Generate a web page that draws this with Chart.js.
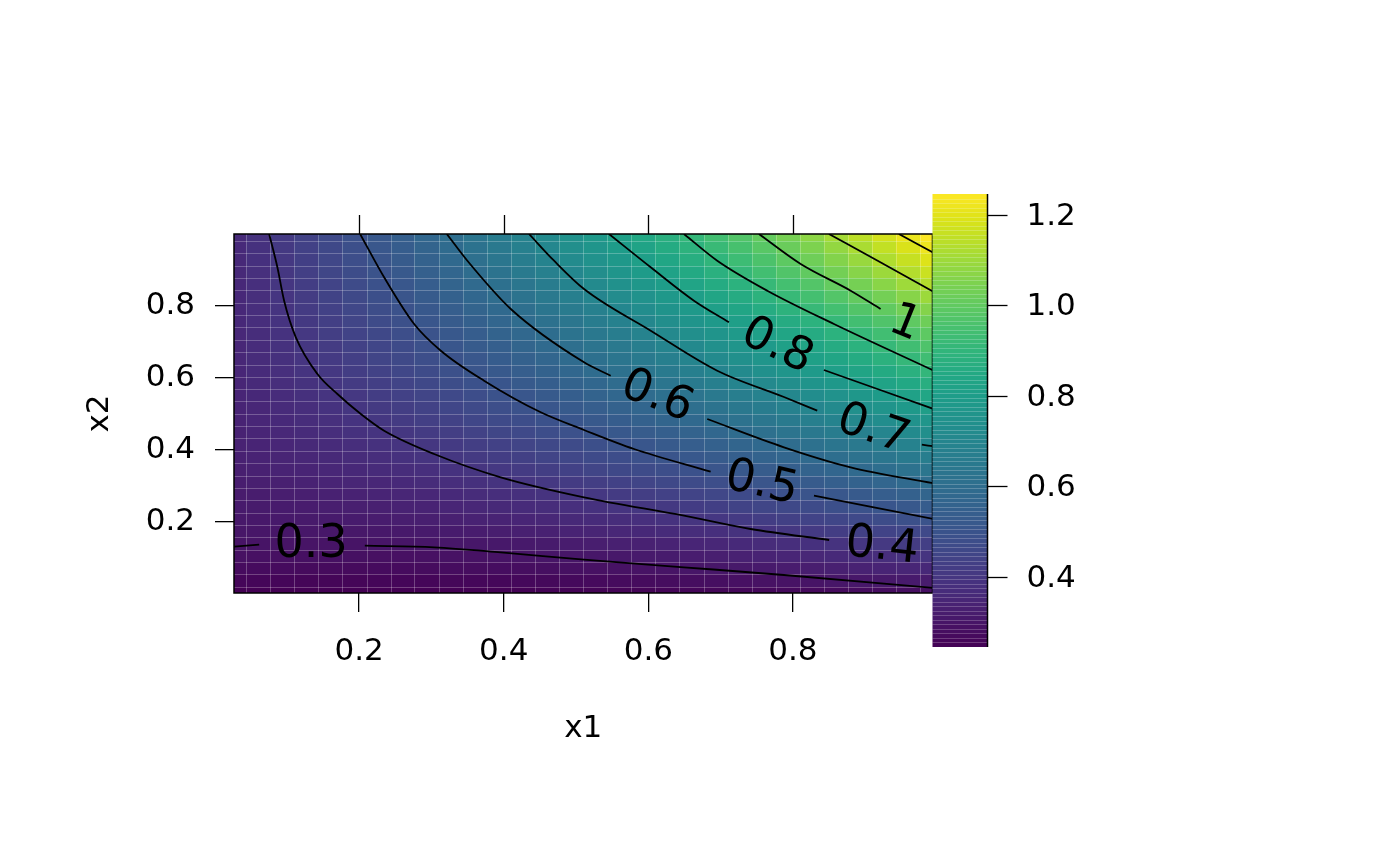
<!DOCTYPE html>
<html>
<head>
<meta charset="utf-8">
<script src="https://cdn.jsdelivr.net/npm/chart.js@4.4.1/dist/chart.umd.min.js"></script>
<style>
html,body{margin:0;padding:0;background:#ffffff;}
canvas{display:block;}
</style>
</head>
<body>
<canvas id="c" width="1400" height="866"></canvas>
<script>
// ---------------- data ----------------
const x1Grid = [0.027,0.060,0.094,0.127,0.160,0.194,0.227,0.260,0.293,0.327,0.360,0.393,0.427,0.460,0.493,0.527,0.560,0.593,0.626,0.660,0.693,0.726,0.760,0.793,0.826,0.860,0.893,0.926,0.959,0.993];
const x2Grid = [0.003,0.037,0.072,0.106,0.140,0.175,0.209,0.243,0.277,0.312,0.346,0.380,0.415,0.449,0.483,0.518,0.552,0.586,0.620,0.655,0.689,0.723,0.758,0.792,0.826,0.861,0.895,0.929,0.963,0.998];
// zRows[j][i] : value at (x1Grid[i], x2Grid[j])
const zRows = [
[0.246,0.245,0.245,0.245,0.244,0.245,0.245,0.245,0.245,0.246,0.247,0.248,0.248,0.250,0.251,0.252,0.254,0.255,0.257,0.259,0.261,0.263,0.265,0.268,0.271,0.273,0.276,0.279,0.282,0.285],
[0.260,0.259,0.259,0.258,0.258,0.258,0.259,0.259,0.260,0.261,0.262,0.263,0.265,0.266,0.268,0.271,0.273,0.275,0.278,0.281,0.284,0.288,0.291,0.295,0.299,0.303,0.307,0.312,0.316,0.321],
[0.274,0.273,0.273,0.272,0.272,0.272,0.273,0.274,0.275,0.276,0.277,0.279,0.281,0.284,0.286,0.289,0.292,0.296,0.299,0.303,0.307,0.312,0.317,0.322,0.327,0.333,0.338,0.345,0.351,0.358],
[0.289,0.288,0.287,0.286,0.286,0.286,0.287,0.288,0.289,0.291,0.293,0.295,0.298,0.300,0.304,0.307,0.311,0.316,0.320,0.325,0.331,0.336,0.342,0.349,0.355,0.362,0.370,0.377,0.385,0.394],
[0.299,0.298,0.298,0.298,0.298,0.299,0.300,0.301,0.303,0.306,0.308,0.311,0.314,0.318,0.322,0.327,0.332,0.337,0.342,0.349,0.355,0.362,0.369,0.376,0.384,0.392,0.401,0.410,0.420,0.429],
[0.305,0.305,0.305,0.306,0.307,0.309,0.311,0.314,0.316,0.320,0.323,0.327,0.332,0.336,0.342,0.347,0.353,0.359,0.366,0.373,0.380,0.388,0.396,0.405,0.414,0.423,0.433,0.443,0.453,0.464],
[0.310,0.311,0.313,0.315,0.317,0.320,0.323,0.326,0.330,0.334,0.339,0.343,0.349,0.355,0.361,0.367,0.374,0.381,0.389,0.397,0.406,0.414,0.424,0.433,0.443,0.453,0.464,0.475,0.487,0.499],
[0.316,0.318,0.320,0.323,0.326,0.330,0.334,0.338,0.343,0.348,0.354,0.360,0.366,0.373,0.380,0.387,0.395,0.404,0.412,0.421,0.431,0.441,0.451,0.461,0.472,0.484,0.496,0.508,0.520,0.533],
[0.321,0.324,0.327,0.331,0.335,0.340,0.345,0.350,0.356,0.362,0.369,0.376,0.383,0.391,0.399,0.407,0.416,0.426,0.435,0.445,0.456,0.467,0.478,0.490,0.502,0.514,0.527,0.540,0.554,0.568],
[0.325,0.330,0.334,0.339,0.344,0.350,0.356,0.362,0.369,0.376,0.383,0.391,0.400,0.408,0.418,0.427,0.437,0.447,0.458,0.469,0.481,0.493,0.505,0.518,0.531,0.544,0.558,0.572,0.587,0.602],
[0.330,0.335,0.341,0.346,0.353,0.359,0.366,0.374,0.381,0.390,0.398,0.407,0.416,0.426,0.436,0.447,0.458,0.469,0.481,0.493,0.506,0.518,0.532,0.545,0.560,0.574,0.589,0.604,0.620,0.636],
[0.335,0.341,0.347,0.354,0.361,0.369,0.377,0.385,0.394,0.403,0.413,0.423,0.433,0.444,0.455,0.467,0.478,0.491,0.504,0.517,0.530,0.544,0.559,0.573,0.589,0.604,0.620,0.637,0.653,0.670],
[0.338,0.345,0.352,0.360,0.368,0.377,0.386,0.395,0.405,0.415,0.426,0.437,0.448,0.460,0.472,0.485,0.498,0.512,0.525,0.540,0.554,0.569,0.585,0.600,0.617,0.633,0.650,0.668,0.686,0.704],
[0.340,0.349,0.357,0.366,0.375,0.385,0.395,0.405,0.416,0.427,0.439,0.451,0.464,0.477,0.490,0.504,0.518,0.532,0.547,0.562,0.578,0.594,0.610,0.627,0.645,0.662,0.680,0.699,0.718,0.737],
[0.343,0.352,0.362,0.372,0.382,0.393,0.404,0.416,0.428,0.440,0.453,0.466,0.479,0.493,0.508,0.522,0.537,0.553,0.569,0.585,0.602,0.619,0.636,0.654,0.673,0.691,0.711,0.730,0.750,0.770],
[0.346,0.356,0.366,0.377,0.389,0.401,0.413,0.425,0.438,0.452,0.466,0.480,0.494,0.509,0.525,0.541,0.557,0.573,0.590,0.608,0.626,0.644,0.662,0.681,0.701,0.720,0.741,0.761,0.782,0.803],
[0.348,0.359,0.371,0.383,0.395,0.408,0.422,0.435,0.449,0.464,0.479,0.494,0.510,0.526,0.542,0.559,0.576,0.594,0.612,0.630,0.649,0.669,0.688,0.708,0.729,0.750,0.771,0.793,0.815,0.837],
[0.350,0.363,0.375,0.388,0.402,0.416,0.430,0.445,0.460,0.476,0.492,0.508,0.525,0.542,0.559,0.577,0.596,0.614,0.634,0.653,0.673,0.694,0.714,0.735,0.757,0.779,0.801,0.824,0.847,0.871],
[0.352,0.366,0.380,0.394,0.409,0.424,0.439,0.455,0.471,0.488,0.505,0.522,0.540,0.558,0.577,0.596,0.615,0.635,0.655,0.676,0.697,0.718,0.740,0.762,0.785,0.808,0.831,0.855,0.879,0.904],
[0.354,0.369,0.383,0.399,0.414,0.430,0.447,0.463,0.481,0.498,0.516,0.535,0.554,0.573,0.592,0.612,0.633,0.654,0.675,0.696,0.719,0.741,0.764,0.787,0.811,0.835,0.859,0.884,0.909,0.935],
[0.356,0.371,0.387,0.403,0.420,0.437,0.454,0.472,0.490,0.509,0.528,0.547,0.567,0.587,0.608,0.629,0.650,0.672,0.694,0.716,0.740,0.763,0.787,0.811,0.835,0.860,0.886,0.912,0.938,0.964],
[0.357,0.374,0.390,0.407,0.425,0.443,0.461,0.480,0.499,0.519,0.539,0.559,0.580,0.601,0.623,0.645,0.667,0.690,0.713,0.736,0.761,0.785,0.810,0.835,0.860,0.886,0.913,0.939,0.967,0.994],
[0.358,0.376,0.393,0.412,0.430,0.449,0.469,0.488,0.509,0.529,0.550,0.572,0.594,0.616,0.638,0.661,0.685,0.708,0.733,0.757,0.782,0.808,0.834,0.860,0.886,0.913,0.941,0.968,0.997,1.025],
[0.359,0.377,0.396,0.416,0.435,0.456,0.476,0.497,0.519,0.541,0.563,0.585,0.609,0.632,0.656,0.680,0.705,0.730,0.755,0.781,0.807,0.834,0.861,0.888,0.916,0.944,0.973,1.002,1.031,1.061],
[0.359,0.379,0.399,0.420,0.441,0.462,0.484,0.506,0.529,0.552,0.575,0.599,0.624,0.648,0.673,0.699,0.725,0.751,0.777,0.804,0.832,0.860,0.888,0.917,0.946,0.975,1.005,1.035,1.066,1.097],
[0.359,0.380,0.402,0.424,0.446,0.469,0.492,0.515,0.539,0.563,0.588,0.613,0.639,0.664,0.691,0.717,0.744,0.772,0.800,0.828,0.857,0.886,0.915,0.945,0.975,1.006,1.037,1.069,1.101,1.133],
[0.360,0.382,0.405,0.428,0.451,0.475,0.499,0.523,0.548,0.574,0.599,0.626,0.652,0.679,0.706,0.734,0.762,0.791,0.820,0.849,0.879,0.909,0.940,0.971,1.002,1.034,1.066,1.098,1.131,1.165],
[0.361,0.384,0.408,0.431,0.456,0.480,0.506,0.531,0.557,0.583,0.610,0.637,0.665,0.693,0.721,0.750,0.779,0.808,0.838,0.869,0.899,0.930,0.962,0.994,1.026,1.059,1.092,1.126,1.159,1.194],
[0.362,0.386,0.411,0.435,0.461,0.486,0.513,0.539,0.566,0.593,0.621,0.649,0.678,0.706,0.736,0.765,0.795,0.826,0.857,0.888,0.920,0.952,0.984,1.017,1.051,1.084,1.118,1.153,1.188,1.223],
[0.363,0.388,0.414,0.439,0.466,0.492,0.520,0.547,0.575,0.603,0.632,0.661,0.690,0.720,0.750,0.781,0.812,0.844,0.875,0.908,0.940,0.973,1.007,1.041,1.075,1.110,1.145,1.180,1.216,1.252]
];
const zRange = [0.245, 1.246];

// contour lines (x1, x2), split where labels interrupt them
const contour03a = [[0.027,0.1314],[0.0618,0.137]];
const contour03b = [[0.2079,0.1342],[0.3037,0.1297],[0.3959,0.1158],[0.5111,0.0953],[0.6493,0.0742],[0.7876,0.0528],[0.9949,0.0167]];
const contour04  = [[0.0756,1.0],[0.0870,0.9075],[0.0963,0.8147],[0.1125,0.7131],[0.1424,0.6111],[0.1700,0.5556],[0.2024,0.5],[0.2346,0.4536],[0.3037,0.3889],[0.3959,0.3242],[0.5111,0.2686],[0.6493,0.2175],[0.7415,0.1806],[0.8501,0.15]];
const contour05a = [[0.2014,1.0],[0.2346,0.8797],[0.2761,0.75],[0.3130,0.6758],[0.3728,0.5925],[0.4512,0.5047],[0.5111,0.4556],[0.5802,0.4028],[0.6862,0.3397]];
const contour05b = [[0.8291,0.2731],[0.9949,0.2083]];
const contour06a = [[0.3213,1.0],[0.3497,0.9258],[0.4098,0.7917],[0.5111,0.6436],[0.5480,0.6064]];
const contour06b = [[0.6815,0.4861],[0.7876,0.4075],[0.8798,0.3519],[0.9949,0.3075]];
const contour07a = [[0.4350,1.0],[0.4696,0.9258],[0.5111,0.8472],[0.6033,0.7314],[0.6953,0.6203],[0.7876,0.5472],[0.8336,0.5092]];
const contour07b = [[0.9783,0.4147],[0.9949,0.4103]];
const contour08a = [[0.5456,1.0],[0.6033,0.9075],[0.6631,0.8147],[0.7115,0.7547]];
const contour08b = [[0.8428,0.6222],[0.9949,0.5139]];
const contour09  = [[0.6493,1.0],[0.6953,0.9258],[0.7645,0.8425],[0.8567,0.75],[0.9949,0.6203]];
const contour10  = [[0.7530,1.0],[0.8107,0.9167],[0.8798,0.8425],[0.9212,0.7917]];
const contour11  = [[0.8498,1.0],[0.9203,0.9222],[0.9949,0.8389]];
const contour12  = [[0.9465,1.0],[0.9949,0.9472]];

const contourLabelText = ['0.3','0.4','0.5','0.6','0.7','0.8','1'];
const contourLabelAt   = [[0.1336,0.1361],[0.9230,0.1306],[0.7565,0.3056],[0.6120,0.5472],[0.9106,0.4556],[0.7779,0.6875],[0.9548,0.75]];
const contourLabelDeg  = [0,6,13,22,19,26,22];

const xTicks = [0.2,0.4,0.6,0.8];
const xTickLabels = ['0.2','0.4','0.6','0.8'];
const yTicks = [0.2,0.4,0.6,0.8];
const yTickLabels = ['0.2','0.4','0.6','0.8'];
const colorbarTicks = [0.4,0.6,0.8,1.0,1.2];
const colorbarTickLabels = ['0.4','0.6','0.8','1.0','1.2'];
const xTitle = 'x1';
const yTitle = 'x2';

// ---------------- styling ----------------
const FONT = "'DejaVu Sans', 'Noto Sans', sans-serif";
const TICK_PX = 31;
const VIRIDIS = ['#440154','#471365','#482475','#463480','#414487','#3b528b','#355f8d','#2f6c8e','#2a788e','#25848e','#21918c','#1e9c89','#22a884','#2fb47c','#44bf70','#5ec962','#7ad151','#9bd93c','#bddf26','#dfe318','#fde725'];
const VRGB = VIRIDIS.map(h => [parseInt(h.slice(1,3),16),parseInt(h.slice(3,5),16),parseInt(h.slice(5,7),16)]);
function viridis(t){
  t = Math.max(0, Math.min(1, t));
  const p = t*(VRGB.length-1), k = Math.min(VRGB.length-2, Math.floor(p)), f = p-k;
  const a = VRGB[k], b = VRGB[k+1];
  return 'rgb(' + [0,1,2].map(c => Math.round(a[c]+(b[c]-a[c])*f)).join(',') + ')';
}
function edges(g){
  const e = [g[0]-(g[1]-g[0])/2];
  for (let i=0;i<g.length-1;i++) e.push((g[i]+g[i+1])/2);
  e.push(g[g.length-1]+(g[g.length-1]-g[g.length-2])/2);
  return e;
}

const heatmapPlugin = {
  id:'heatmap',
  beforeDatasetsDraw(chart){
    const {ctx, chartArea:a, scales:{x,y}} = chart;
    const xe = edges(x1Grid), ye = edges(x2Grid);
    ctx.save();
    ctx.beginPath(); ctx.rect(a.left,a.top,a.right-a.left,a.bottom-a.top); ctx.clip();
    for (let j=0;j<x2Grid.length;j++){
      const t = Math.round(y.getPixelForValue(ye[j+1])), b = Math.round(y.getPixelForValue(ye[j]));
      for (let i=0;i<x1Grid.length;i++){
        const l = Math.round(x.getPixelForValue(xe[i])), r = Math.round(x.getPixelForValue(xe[i+1]));
        ctx.fillStyle = viridis((zRows[j][i]-zRange[0])/(zRange[1]-zRange[0]));
        ctx.fillRect(l, t, r-l, b-t);
      }
    }
    ctx.strokeStyle = 'rgba(255,255,255,0.25)';
    ctx.lineWidth = 1;
    ctx.beginPath();
    for (let i=1;i<xe.length-1;i++){
      const px = Math.round(x.getPixelForValue(xe[i])) + 0.5;
      ctx.moveTo(px, a.top); ctx.lineTo(px, a.bottom);
    }
    for (let j=1;j<ye.length-1;j++){
      const py = Math.round(y.getPixelForValue(ye[j])) + 0.5;
      ctx.moveTo(a.left, py); ctx.lineTo(a.right, py);
    }
    ctx.stroke();
    ctx.restore();
  }
};

const decorPlugin = {
  id:'decor',
  afterDatasetsDraw(chart){
    const {ctx, chartArea:a, scales:{x,y}} = chart;
    ctx.save();
    // contour labels
    ctx.fillStyle = '#000';
    ctx.font = '46px ' + FONT;
    ctx.textAlign = 'center';
    ctx.textBaseline = 'middle';
    contourLabelText.forEach((txt,k) => {
      const px = x.getPixelForValue(contourLabelAt[k][0]);
      const py = y.getPixelForValue(contourLabelAt[k][1]);
      ctx.save();
      ctx.translate(px, py);
      ctx.rotate(contourLabelDeg[k]*Math.PI/180);
      ctx.fillText(txt, 0, 0);
      ctx.restore();
    });
    // frame
    ctx.strokeStyle = '#000';
    ctx.lineWidth = 1.5;
    ctx.strokeRect(a.left, a.top, a.right-a.left, a.bottom-a.top);
    // top ticks
    ctx.lineWidth = 1.3;
    ctx.beginPath();
    xTicks.forEach(v => {
      const px = Math.round(x.getPixelForValue(v)) + 0.5;
      ctx.moveTo(px, a.top); ctx.lineTo(px, a.top-19);
    });
    ctx.stroke();
    // colorbar
    const cbL = a.right, cbR = a.right + 55, cbT = a.top - 40, cbB = a.bottom + 54;
    const N = 100;
    for (let k=0;k<N;k++){
      const t0 = Math.round(cbB - (k+1)*(cbB-cbT)/N), b0 = Math.round(cbB - k*(cbB-cbT)/N);
      ctx.fillStyle = viridis((k+0.5)/N);
      ctx.fillRect(cbL, t0, cbR-cbL, b0-t0);
    }
    ctx.strokeStyle = 'rgba(255,255,255,0.22)';
    ctx.lineWidth = 1;
    ctx.beginPath();
    for (let k=1;k<N;k++){
      const py = Math.round(cbB - k*(cbB-cbT)/N) + 0.5;
      ctx.moveTo(cbL, py); ctx.lineTo(cbR, py);
    }
    ctx.stroke();
    ctx.strokeStyle = '#000';
    ctx.lineWidth = 1.5;
    ctx.beginPath();
    ctx.moveTo(cbR, cbT); ctx.lineTo(cbR, cbB);
    ctx.stroke();
    ctx.lineWidth = 1.3;
    ctx.font = TICK_PX + 'px ' + FONT;
    ctx.fillStyle = '#000';
    ctx.textAlign = 'left';
    ctx.textBaseline = 'middle';
    colorbarTicks.forEach((v,k) => {
      const py = Math.round(cbB - (v-zRange[0])/(zRange[1]-zRange[0])*(cbB-cbT)) + 0.5;
      ctx.beginPath(); ctx.moveTo(cbR, py); ctx.lineTo(cbR+20, py); ctx.stroke();
      ctx.fillText(colorbarTickLabels[k], cbR+39, py+1);
    });
    // axis titles
    ctx.textAlign = 'center';
    ctx.fillText(xTitle, (a.left+a.right)/2, a.bottom + 136);
    ctx.save();
    ctx.translate(a.left - 134, (a.top+a.bottom)/2);
    ctx.rotate(-Math.PI/2);
    ctx.fillText(yTitle, 0, 0);
    ctx.restore();
    ctx.restore();
  }
};

const contourSegments = [contour03a,contour03b,contour04,contour05a,contour05b,contour06a,contour06b,contour07a,contour07b,contour08a,contour08b,contour09,contour10,contour11,contour12];

new Chart(document.getElementById('c'), {
  type:'scatter',
  data:{
    datasets: contourSegments.map(seg => ({
      data: seg.map(p => ({x:p[0], y:p[1]})),
      showLine:true,
      borderColor:'#000',
      borderWidth:1.8,
      pointRadius:0,
      pointHoverRadius:0,
      cubicInterpolationMode:'monotone',
      fill:false
    }))
  },
  options:{
    responsive:false,
    animation:false,
    devicePixelRatio:1,
    events:[],
    layout:{padding:{left:84, top:234, right:467.5, bottom:153}},
    plugins:{legend:{display:false}, tooltip:{enabled:false}},
    scales:{
      x:{
        type:'linear', min:0.027, max:0.993,
        afterBuildTicks: s => { s.ticks = xTicks.map(v => ({value:v})); },
        afterFit: s => { s.height = 120; },
        grid:{drawOnChartArea:false, drawTicks:true, tickLength:19, color:'#000', lineWidth:1.3},
        border:{display:false},
        ticks:{color:'#000', font:{size:TICK_PX, family:FONT}, padding:21, maxRotation:0, autoSkip:false,
               callback:(v,i) => xTickLabels[i]}
      },
      y:{
        type:'linear', min:0.0028, max:1.0,
        afterBuildTicks: s => { s.ticks = yTicks.map(v => ({value:v})); },
        afterFit: s => { s.width = 150; },
        grid:{drawOnChartArea:false, drawTicks:true, tickLength:19, color:'#000', lineWidth:1.3},
        border:{display:false},
        ticks:{color:'#000', font:{size:TICK_PX, family:FONT}, padding:20, autoSkip:false,
               callback:(v,i) => yTickLabels[i]}
      }
    }
  },
  plugins:[heatmapPlugin, decorPlugin]
});
</script>
</body>
</html>
